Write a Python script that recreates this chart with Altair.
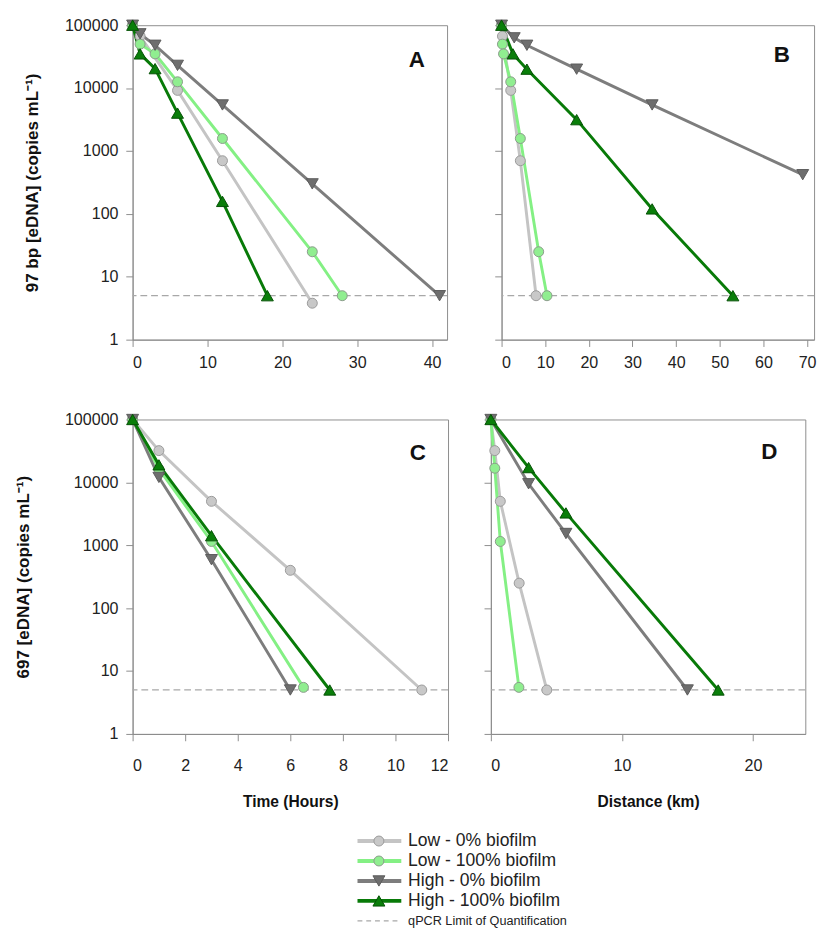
import altair as alt
import pandas as pd

SERIES = ["Low - 0% biofilm", "Low - 100% biofilm", "High - 0% biofilm", "High - 100% biofilm"]
LINE_COLORS = ["#c4c4c4", "#84f084", "#7d7d7d", "#087a08"]
FILL_COLORS = ["#c8c8c8", "#90ee90", "#6e6e6e", "#0a7e0a"]
STROKE_COLORS = ["#999999", "#8a9a8a", "#5c5c5c", "#045004"]
LOQ = 5
LOQ_LABEL = "qPCR Limit of Quantification"
Y_TICKS = [1, 10, 100, 1000, 10000, 100000]

# Panel A: 97 bp, time (hours)
A_LOW0_X = [0, 1, 6, 12, 24]
A_LOW0_Y = [100000, 67000, 9200, 700, 3.8]
A_LOW100_X = [0, 1, 3, 6, 12, 24, 28]
A_LOW100_Y = [100000, 50000, 35000, 12600, 1580, 25, 5]
A_HIGH0_X = [0, 1, 3, 6, 12, 24, 41]
A_HIGH0_Y = [100000, 73000, 48000, 23000, 5400, 300, 5]
A_HIGH100_X = [0, 1, 3, 6, 12, 18]
A_HIGH100_Y = [100000, 35000, 20400, 4000, 158, 5]

# Panel B: 97 bp, distance (km)
B_LOW0_X = [0, 0.2, 2.1, 4.3, 7.9]
B_LOW0_Y = [100000, 67000, 9200, 700, 5]
B_LOW100_X = [0, 0.2, 0.45, 2.1, 4.3, 8.5, 10.4]
B_LOW100_Y = [100000, 50000, 35000, 12600, 1580, 25, 5]
B_HIGH0_X = [0, 2.9, 5.8, 17.2, 34.5, 69]
B_HIGH0_Y = [100000, 63000, 48000, 20000, 5400, 420]
B_HIGH100_X = [0, 2.6, 5.8, 17.2, 34.5, 53]
B_HIGH100_Y = [100000, 35000, 20000, 3150, 120, 5]

# Panel C: 697 bp, time (hours)
C_LOW0_X = [0, 1, 3, 6, 11]
C_LOW0_Y = [100000, 32000, 5000, 400, 5]
C_LOW100_X = [0, 1, 3, 6.5]
C_LOW100_Y = [100000, 16300, 1150, 5.5]
C_HIGH0_X = [0, 1, 3, 6]
C_HIGH0_Y = [100000, 12000, 590, 5]
C_HIGH100_X = [0, 1, 3, 7.5]
C_HIGH100_Y = [100000, 19000, 1420, 5]

# Panel D: 697 bp, distance (km)
D_LOW0_X = [0, 0.3, 0.72, 2.16, 4.27]
D_LOW0_Y = [100000, 32000, 5000, 250, 5]
D_LOW100_X = [0, 0.3, 0.72, 2.14]
D_LOW100_Y = [100000, 16800, 1150, 5.5]
D_HIGH0_X = [0, 2.88, 5.73, 15]
D_HIGH0_Y = [100000, 9500, 1540, 5]
D_HIGH100_X = [0, 2.88, 5.73, 17.35]
D_HIGH100_Y = [100000, 17200, 3270, 5]

FONT = "Liberation Sans"


def frame(pairs):
    rows = []
    for s, (xs, ys) in zip(SERIES, pairs):
        for xv, yv in zip(xs, ys):
            rows.append({"series": s, "x": xv, "y": yv})
    return pd.DataFrame(rows)


def color_scale(rng):
    return alt.Scale(domain=SERIES, range=rng)


def panel(pairs, xmax, xticks, letter, lpos, width, ytitle, ylabels, xtitle, tpad):
    df = frame(pairs)
    if xtitle:
        xaxis = alt.Axis(values=xticks, title=xtitle, titlePadding=20, labelPadding=18)
    else:
        xaxis = alt.Axis(values=xticks, title=None, labelPadding=9)
    if ylabels:
        yaxis = alt.Axis(values=Y_TICKS, format="d", title=ytitle, titlePadding=tpad, titleFontSize=17.5)
    else:
        yaxis = alt.Axis(values=Y_TICKS, labels=False, title=None)
    x = alt.X("x:Q", scale=alt.Scale(domain=[0, xmax], nice=False, zero=False), axis=xaxis)
    y = alt.Y("y:Q", scale=alt.Scale(type="log", domain=[1, 100000], nice=False), axis=yaxis)

    rule = alt.Chart(pd.DataFrame({"y": [LOQ]})).mark_rule(
        color="#a8a8a8", strokeDash=[7, 4], strokeWidth=1.3
    ).encode(y=alt.Y("y:Q"))

    lines = alt.Chart(df).mark_line(strokeWidth=3).encode(
        x=x, y=y,
        color=alt.Color("series:N", scale=color_scale(LINE_COLORS), legend=None),
    )
    circles = alt.Chart(df).transform_filter(
        alt.FieldOneOfPredicate(field="series", oneOf=SERIES[:2])
    ).mark_point(filled=True, shape="circle", size=105, strokeWidth=1, opacity=1).encode(
        x=x, y=y,
        fill=alt.Fill("series:N", scale=color_scale(FILL_COLORS), legend=None),
        stroke=alt.Stroke("series:N", scale=color_scale(STROKE_COLORS), legend=None),
    )
    tris = alt.Chart(df).transform_filter(
        alt.FieldOneOfPredicate(field="series", oneOf=SERIES[2:])
    ).mark_point(filled=True, size=150, strokeWidth=1, opacity=1).encode(
        x=x, y=y,
        shape=alt.Shape("series:N", scale=alt.Scale(domain=SERIES[2:], range=["triangle-down", "triangle-up"]), legend=None),
        fill=alt.Fill("series:N", scale=color_scale(FILL_COLORS), legend=None),
        stroke=alt.Stroke("series:N", scale=color_scale(STROKE_COLORS), legend=None),
    )
    txt = alt.Chart(pd.DataFrame({"t": [letter]})).mark_text(
        font=FONT, fontSize=23, fontWeight="bold", color="#111"
    ).encode(text="t:N", x=alt.value(lpos[0]), y=alt.value(lpos[1]))
    return alt.layer(rule, lines, circles, tris, txt).properties(width=width, height=323)


YT_TOP = "97 bp [eDNA] (copies mL\u207b\u00b9)"
YT_BOT = "697 [eDNA] (copies mL\u207b\u00b9)"

pA = panel([(A_LOW0_X, A_LOW0_Y), (A_LOW100_X, A_LOW100_Y), (A_HIGH0_X, A_HIGH0_Y), (A_HIGH100_X, A_HIGH100_Y)],
           42, [0, 10, 20, 30, 40], "A", (292, 36), 323, YT_TOP, True, None, 24)
pB = panel([(B_LOW0_X, B_LOW0_Y), (B_LOW100_X, B_LOW100_Y), (B_HIGH0_X, B_HIGH0_Y), (B_HIGH100_X, B_HIGH100_Y)],
           71.6, [0, 10, 20, 30, 40, 50, 60, 70], "B", (288, 31), 321, None, False, None, 22)
pC = panel([(C_LOW0_X, C_LOW0_Y), (C_LOW100_X, C_LOW100_Y), (C_HIGH0_X, C_HIGH0_Y), (C_HIGH100_X, C_HIGH100_Y)],
           12, [0, 2, 4, 6, 8, 10, 12], "C", (293, 35), 324, YT_BOT, True, "Time (Hours)", 33)
pD = panel([(D_LOW0_X, D_LOW0_Y), (D_LOW100_X, D_LOW100_Y), (D_HIGH0_X, D_HIGH0_Y), (D_HIGH100_X, D_HIGH100_Y)],
           24, [0, 10, 20], "D", (286, 34), 323, None, False, "Distance (km)", 22)

# custom legend
leg_df = pd.DataFrame({"label": SERIES + [LOQ_LABEL], "series": SERIES + ["LOQ"], "row": [0, 1, 2, 3, 4]})
yl = alt.Y("row:Q", scale=alt.Scale(domain=[0, 4], reverse=True), axis=None)
L0, L1, LM, LT = 231, 276, 253, 283
leg_lines = alt.Chart(leg_df).transform_filter("datum.row < 4").mark_rule(strokeWidth=4).encode(
    x=alt.value(L0), x2=alt.value(L1), y=yl,
    color=alt.Color("series:N", scale=color_scale(LINE_COLORS), legend=None))
leg_dash = alt.Chart(leg_df).transform_filter("datum.row == 4").mark_rule(
    strokeWidth=1.3, color="#a8a8a8", strokeDash=[5, 4]).encode(
    x=alt.value(L0), x2=alt.value(L1 - 3), y=yl)
leg_circ = alt.Chart(leg_df).transform_filter("datum.row < 2").mark_point(
    filled=True, shape="circle", size=105, strokeWidth=1, opacity=1).encode(
    x=alt.value(LM), y=yl,
    fill=alt.Fill("series:N", scale=color_scale(FILL_COLORS), legend=None),
    stroke=alt.Stroke("series:N", scale=color_scale(STROKE_COLORS), legend=None))
leg_tri = alt.Chart(leg_df).transform_filter("datum.row >= 2 && datum.row < 4").mark_point(
    filled=True, size=150, strokeWidth=1, opacity=1).encode(
    x=alt.value(LM), y=yl,
    shape=alt.Shape("series:N", scale=alt.Scale(domain=SERIES[2:], range=["triangle-down", "triangle-up"]), legend=None),
    fill=alt.Fill("series:N", scale=color_scale(FILL_COLORS), legend=None),
    stroke=alt.Stroke("series:N", scale=color_scale(STROKE_COLORS), legend=None))
leg_txt = alt.Chart(leg_df).transform_filter("datum.row < 4").mark_text(
    align="left", baseline="middle", font=FONT, fontSize=18, color="#222").encode(
    x=alt.value(LT), y=yl, text="label:N")
leg_txt2 = alt.Chart(leg_df).transform_filter("datum.row == 4").mark_text(
    align="left", baseline="middle", font=FONT, fontSize=13, color="#222").encode(
    x=alt.value(LT), y=yl, text="label:N")
legend = alt.layer(leg_lines, leg_dash, leg_circ, leg_tri, leg_txt, leg_txt2).properties(
    width=600, height=82, view=alt.ViewBackground(stroke="transparent"))

top = alt.hconcat(pA, pB, spacing=45)
bottom = alt.hconcat(pC, pD, spacing=33)
panels = alt.concat(top, bottom, columns=1, align="none", spacing=40)
chart = alt.concat(panels, legend, columns=1, align="none", spacing=22).properties(
    padding={"left": 6, "top": -4, "right": 0, "bottom": 0}
).configure_view(stroke="#8c8c8c", strokeWidth=1).configure_axis(
    grid=False, domainColor="#8c8c8c", tickColor="#8c8c8c", tickSize=7,
    labelFont=FONT, labelFontSize=16.5, labelColor="#222", labelPadding=4,
    titleFont=FONT, titleFontSize=16, titleFontWeight="bold", titleColor="#111",
).configure_axisY(labelPadding=8)

chart.save("out.html", embed_options={"renderer": "svg", "actions": False})
